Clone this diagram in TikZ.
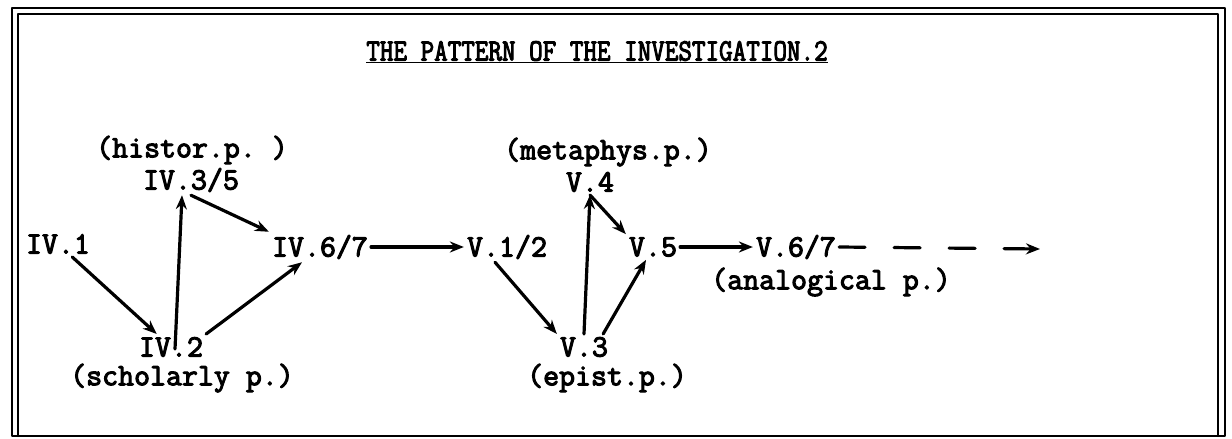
\documentclass[tikz,border=0pt]{standalone}
\usepackage{fontspec}
\setmonofont[FakeBold=3.5]{Latin Modern Mono}
\usetikzlibrary{arrows.meta}
\begin{document}
\begin{tikzpicture}[x=1pt,y=-1pt,line join=round,line cap=round,
	>={Stealth[length=14pt,width=11pt]},
	font=\ttfamily\fontsize{31}{33}\selectfont,
	lbl/.style={inner sep=3pt},
	link/.style={->,line width=3.2pt},
	frame/.style={line width=2.4pt}]
	\useasboundingbox (0,0) rectangle (1232,439);
	
	% double frame
	\draw[frame] (12,8) rectangle (1225,436);
	\draw[frame] (18,436) -- (18,14) -- (1218,14) -- (1218,436);
	
	\node[lbl,xscale=0.85] (title) at (597,52) {\underline{THE PATTERN OF THE INVESTIGATION.2}};
	
	% chapter IV
	\node[lbl] (histp) at (192,150) {(histor.p. )};
	\node[lbl] (iv35) at (191,180) {IV.3/5};
	\node[lbl] (iv1) at (58,244) {IV.1};
	\node[lbl] (iv67) at (320,247) {IV.6/7};
	\node[lbl] (iv2) at (171,347) {IV.2};
	\node[lbl] (schol) at (182,378) {(scholarly p.)};
	
	% chapter V
	\node[lbl] (v12) at (507,247) {V.1/2};
	\node[lbl] (metap) at (608,152) {(metaphys.p.)};
	\node[lbl] (v4) at (590,182) {V.4};
	\node[lbl] (v5) at (653,247) {V.5};
	\node[lbl] (v3) at (584,347) {V.3};
	\node[lbl] (epist) at (607,378) {(epist.p.)};
	\node[lbl] (v67) at (796,247) {V.6/7};
	\node[lbl] (analog) at (831,282) {(analogical p.)};
	\path (1040,249) coordinate (vend);
	
	\draw[link] (iv1) -- (iv2);
	\draw[link] ([xshift=4pt,yshift=-2pt]iv2.center) -- ([xshift=-9pt]iv35.south);
	\draw[link] (iv35.south) -- (iv67.north west);
	\draw[link] (iv2.north east) -- ([xshift=-18pt]iv67.south);
	\draw[link] (iv67.east) -- (v12.west);
	\draw[link] ([xshift=-12pt]v12.south) -- (v3.north west);
	\draw[link] (v3.north) -- (v4.south);
	\draw[link] (v4.south) -- (v5.north west);
	\draw[link] ([xshift=-8pt]v3.north east) -- ([xshift=-7pt]v5.south);
	\draw[link] (v5.east) -- (v67.west);
	\draw[link,dash pattern=on 26pt off 29pt] (v67.east) -- (vend);
	
\end{tikzpicture}
\end{document}
